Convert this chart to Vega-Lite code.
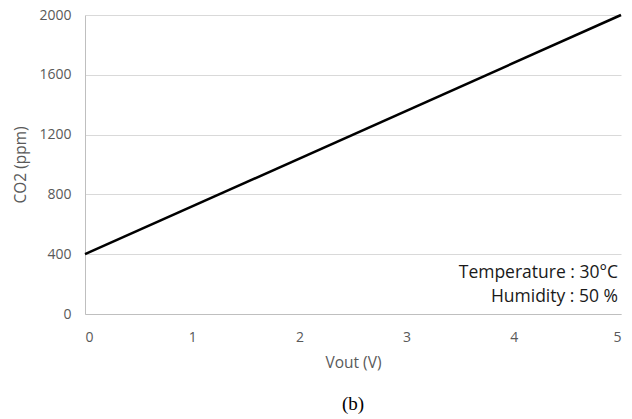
{
  "$schema": "https://vega.github.io/schema/vega-lite/v6.json",
  "width": 536,
  "height": 299,
  "autosize": "none",
  "padding": {"left": 85, "top": 15, "right": 11, "bottom": 105},
  "background": "white",
  "config": {"view": {"stroke": null}, "font": "Open Sans"},
  "title": {"text": "(b)", "orient": "bottom", "anchor": "middle", "font": "Liberation Serif", "fontSize": 19, "fontWeight": "normal", "color": "#000000", "offset": 24},
  "datasets": {
    "line": [{"vout": 0, "co2": 400}, {"vout": 5, "co2": 2000}],
    "notes": [{"vout": 5, "co2": 274, "label": "Temperature : 30°C"}, {"vout": 5, "co2": 114, "label": "Humidity : 50 %"}]
  },
  "layer": [
    {
      "data": {"name": "line"},
      "mark": {"type": "line", "color": "#000000", "strokeWidth": 2.5},
      "encoding": {
        "x": {"field": "vout", "type": "quantitative", "scale": {"domain": [0, 5], "nice": false},
          "axis": {"title": "Vout (V)", "values": [0,1,2,3,4,5], "format": "d", "grid": false, "ticks": false, "domainColor": "#bfbfbf", "labelFont": "Open Sans", "labelFontSize": 14, "labelColor": "#595959", "labelPadding": 16, "titleFont": "Open Sans", "titleFontSize": 15.5, "titleFontWeight": "normal", "titleColor": "#595959", "titlePadding": 11}},
        "y": {"field": "co2", "type": "quantitative", "scale": {"domain": [0, 2000], "nice": false},
          "axis": {"title": "CO2 (ppm)", "values": [0,400,800,1200,1600,2000], "format": "d", "grid": true, "gridColor": "#d9d9d9", "ticks": false, "domainColor": "#bfbfbf", "labelFont": "Open Sans", "labelFontSize": 14, "labelColor": "#595959", "labelPadding": 14, "titleFont": "Open Sans", "titleFontSize": 15.5, "titleFontWeight": "normal", "titleColor": "#595959", "titlePadding": 10}}
      }
    },
    {
      "data": {"name": "notes"},
      "mark": {"type": "text", "align": "right", "baseline": "middle", "fontSize": 17.5, "font": "Open Sans", "color": "#1a1a1a", "dx": -3},
      "encoding": {
        "x": {"field": "vout", "type": "quantitative"},
        "y": {"field": "co2", "type": "quantitative"},
        "text": {"field": "label"}
      }
    }
  ]
}
